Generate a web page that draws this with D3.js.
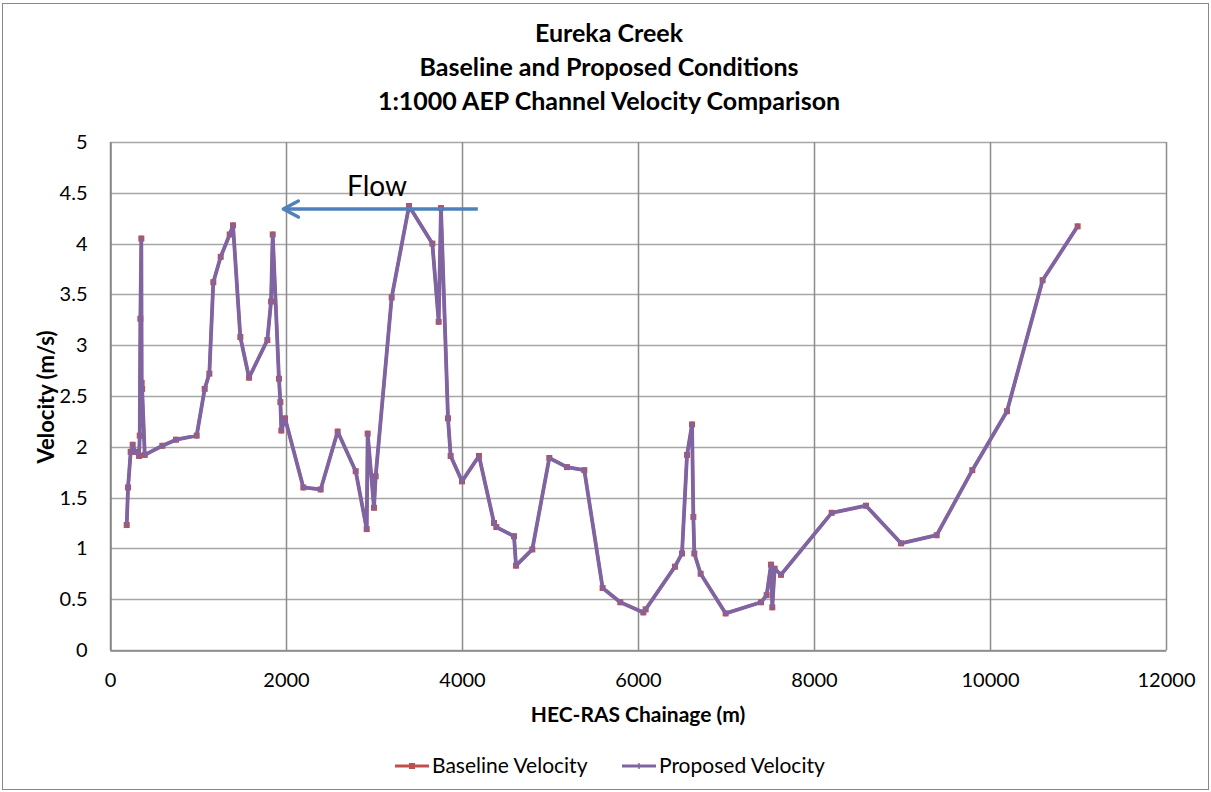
<!DOCTYPE html>
<html>
<head>
<meta charset="utf-8">
<script src="https://cdn.jsdelivr.net/npm/d3@7"></script>
<style>
  body { margin: 0; background: #fff; }
  svg { font-family: Lato, "Open Sans", sans-serif; }
</style>
</head>
<body>
<svg id="chart" width="1211" height="792"></svg>
<script>
// chainage (m) and velocity (m/s)
const chainage = [190, 205, 235, 258, 285, 330, 338, 345, 356, 360, 365, 395, 595, 750, 985, 1076, 1129, 1174, 1258, 1360, 1398, 1481, 1580, 1788, 1830, 1849, 1920, 1936, 1947, 1989, 2197, 2394, 2587, 2792, 2917, 2928, 3000, 3019, 3201, 3398, 3663, 3735, 3761, 3841, 3871, 4000, 4193, 4364, 4390, 4591, 4614, 4799, 4992, 5193, 5390, 5598, 5799, 6061, 6087, 6420, 6500, 6557, 6614, 6629, 6640, 6712, 6996, 7398, 7462, 7511, 7526, 7553, 7625, 8201, 8591, 8989, 9394, 9799, 10193, 10598, 10996];
const baseline = [1.23, 1.60, 1.95, 2.02, 1.95, 1.91, 2.11, 3.26, 4.05, 2.63, 2.57, 1.92, 2.01, 2.07, 2.11, 2.57, 2.72, 3.62, 3.87, 4.09, 4.18, 3.08, 2.68, 3.05, 3.43, 4.09, 2.67, 2.44, 2.16, 2.28, 1.60, 1.58, 2.15, 1.76, 1.19, 2.13, 1.40, 1.71, 3.47, 4.37, 4.00, 3.23, 4.35, 2.28, 1.91, 1.66, 1.91, 1.25, 1.21, 1.12, 0.83, 0.99, 1.89, 1.80, 1.77, 0.61, 0.47, 0.37, 0.40, 0.82, 0.95, 1.92, 2.22, 1.31, 0.95, 0.75, 0.36, 0.47, 0.54, 0.84, 0.42, 0.80, 0.74, 1.35, 1.42, 1.05, 1.13, 1.77, 2.35, 3.64, 4.17];
const proposed = [1.23, 1.60, 1.95, 2.02, 1.95, 1.91, 2.11, 3.26, 4.05, 2.63, 2.57, 1.92, 2.01, 2.07, 2.11, 2.57, 2.72, 3.62, 3.87, 4.09, 4.18, 3.08, 2.68, 3.05, 3.43, 4.09, 2.67, 2.44, 2.16, 2.28, 1.60, 1.58, 2.15, 1.76, 1.19, 2.13, 1.40, 1.71, 3.47, 4.37, 4.00, 3.23, 4.35, 2.28, 1.91, 1.66, 1.91, 1.25, 1.21, 1.12, 0.83, 0.99, 1.89, 1.80, 1.77, 0.61, 0.47, 0.37, 0.40, 0.82, 0.95, 1.92, 2.22, 1.31, 0.95, 0.75, 0.36, 0.47, 0.54, 0.84, 0.42, 0.80, 0.74, 1.35, 1.42, 1.05, 1.13, 1.77, 2.35, 3.64, 4.17];
const xTicks = [0, 2000, 4000, 6000, 8000, 10000, 12000];
const yTicks = [0, 0.5, 1, 1.5, 2, 2.5, 3, 3.5, 4, 4.5, 5];
const titleLines = ["Eureka Creek", "Baseline and Proposed Conditions", "1:1000 AEP Channel Velocity Comparison"];
const flowArrow = { from: [4180, 4.34], to: [1970, 4.34], label: "Flow" };

const svg = d3.select("#chart");
const margin = { left: 110, right: 45, top: 142, bottom: 142 };
const W = 1211, H = 792;

const x = d3.scaleLinear().domain([0, 12000]).range([margin.left, W - margin.right]);
const y = d3.scaleLinear().domain([0, 5]).range([H - margin.bottom, margin.top]);

// outer chart border
svg.append("rect")
  .attr("x", 2.5).attr("y", 3.5)
  .attr("width", W - 5).attr("height", H - 6)
  .attr("fill", "#fff").attr("stroke", "#888").attr("stroke-width", 1);

// title
svg.append("g").selectAll("text")
  .data(titleLines)
  .join("text")
  .attr("x", 609)
  .attr("y", (d, i) => 42 + i * 34)
  .attr("text-anchor", "middle")
  .attr("font-weight", "bold")
  .attr("font-size", "25px")
  .text(d => d);

// gridlines
svg.append("g").selectAll("line")
  .data(yTicks)
  .join("line")
  .attr("x1", x(0)).attr("x2", x(12000))
  .attr("y1", d => Math.round(y(d)) + 0.5).attr("y2", d => Math.round(y(d)) + 0.5)
  .attr("stroke", "#a6a6a6").attr("stroke-width", 1.5);

svg.append("g").selectAll("line")
  .data(xTicks)
  .join("line")
  .attr("x1", d => Math.round(x(d)) + 0.5).attr("x2", d => Math.round(x(d)) + 0.5)
  .attr("y1", y(0)).attr("y2", y(5))
  .attr("stroke", "#8c8c8c").attr("stroke-width", 1.5);

// axes
const xAxis = svg.append("g")
  .attr("transform", `translate(0,${Math.round(y(0)) + 0.5})`)
  .call(d3.axisBottom(x).tickValues(xTicks).tickFormat(d3.format("d")).tickSize(0).tickPadding(22));
const yAxis = svg.append("g")
  .attr("transform", `translate(${Math.round(x(0)) + 0.5},0)`)
  .call(d3.axisLeft(y).tickValues(yTicks).tickFormat(d => d).tickSize(0).tickPadding(23));

[xAxis, yAxis].forEach(g => {
  g.select(".domain").attr("stroke", "#868686").attr("stroke-width", 1.5);
  g.selectAll(".tick text").attr("font-size", "20px").attr("fill", "#000")
    .attr("font-family", "Lato, 'Open Sans', sans-serif");
});

// axis titles
svg.append("text")
  .attr("x", 638).attr("y", 722)
  .attr("text-anchor", "middle")
  .attr("font-weight", "bold").attr("font-size", "21px")
  .text("HEC-RAS Chainage (m)");

svg.append("text")
  .attr("transform", "translate(54,397) rotate(-90)")
  .attr("text-anchor", "middle")
  .attr("font-weight", "bold").attr("font-size", "22px")
  .text("Velocity (m/s)");

// series
const baseData = chainage.map((c, i) => [c, baseline[i]]);
const propData = chainage.map((c, i) => [c, proposed[i]]);
const line = d3.line().x(d => x(d[0])).y(d => y(d[1]));

svg.append("path")
  .datum(baseData)
  .attr("d", line)
  .attr("fill", "none")
  .attr("stroke", "#c0504d")
  .attr("stroke-width", 3)
  .attr("stroke-linejoin", "round");

svg.append("g").selectAll("rect")
  .data(baseData)
  .join("rect")
  .attr("x", d => x(d[0]) - 3).attr("y", d => y(d[1]) - 3)
  .attr("width", 6).attr("height", 6)
  .attr("fill", "#c0504d");

svg.append("path")
  .datum(propData)
  .attr("d", line)
  .attr("fill", "none")
  .attr("stroke", "#8064a2")
  .attr("stroke-width", 3.8)
  .attr("stroke-linejoin", "round");

svg.append("g").selectAll("line")
  .data(propData)
  .join("line")
  .attr("x1", d => x(d[0])).attr("x2", d => x(d[0]))
  .attr("y1", d => y(d[1]) - 3).attr("y2", d => y(d[1]) + 3)
  .attr("stroke", "#8064a2").attr("stroke-width", 1.5);

// flow annotation
svg.append("line")
  .attr("x1", x(flowArrow.from[0])).attr("y1", y(flowArrow.from[1]))
  .attr("x2", x(flowArrow.to[0]) + 2).attr("y2", y(flowArrow.to[1]))
  .attr("stroke", "#4f81bd").attr("stroke-width", 3.5);
const ax = x(flowArrow.to[0]), ay = y(flowArrow.to[1]);
svg.append("path")
  .attr("d", `M${ax + 15},${ay - 8} L${ax},${ay} L${ax + 15},${ay + 8}`)
  .attr("fill", "none").attr("stroke", "#4f81bd").attr("stroke-width", 3.5)
  .attr("stroke-linecap", "round").attr("stroke-linejoin", "round");
svg.append("text")
  .attr("x", 377).attr("y", 196)
  .attr("text-anchor", "middle")
  .attr("font-size", "28px")
  .text(flowArrow.label);

// legend
const legend = svg.append("g").attr("transform", "translate(0,766)");
const items = [
  { name: "Baseline Velocity", color: "#c0504d", x0: 395, marker: "square" },
  { name: "Proposed Velocity", color: "#8064a2", x0: 622, marker: "tick" }
];
const li = legend.selectAll("g").data(items).join("g")
  .attr("transform", d => `translate(${d.x0},0)`);
li.append("line")
  .attr("x1", 0).attr("x2", 34).attr("y1", 0).attr("y2", 0)
  .attr("stroke", d => d.color).attr("stroke-width", 3);
li.filter(d => d.marker === "square").append("rect")
  .attr("x", 14).attr("y", -3).attr("width", 6).attr("height", 6)
  .attr("fill", d => d.color);
li.filter(d => d.marker === "tick").append("line")
  .attr("x1", 17).attr("x2", 17).attr("y1", -3).attr("y2", 3)
  .attr("stroke", d => d.color).attr("stroke-width", 1.5);
li.append("text")
  .attr("x", 37).attr("dy", "0.35em")
  .attr("font-size", "21px")
  .text(d => d.name);
</script>
</body>
</html>
